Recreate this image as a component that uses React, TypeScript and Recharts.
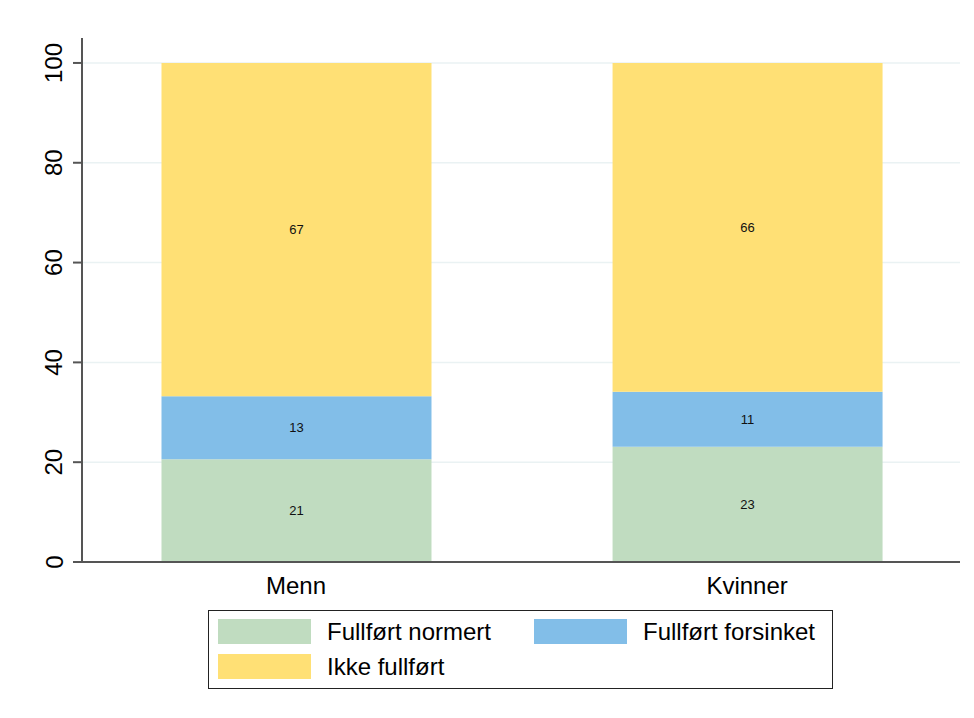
import React from 'react';
import {
  BarChart,
  Bar,
  XAxis,
  YAxis,
  CartesianGrid,
  Legend,
  LabelList,
} from 'recharts';

const categories = ['Menn', 'Kvinner'];
const normert = [20.6, 23.1];
const forsinket = [12.6, 11.0];
const ikkeFullfort = [66.8, 65.9];
const yTicks = [0, 20, 40, 60, 80, 100];

const series = [
  { key: 'normert', name: 'Fullført normert', color: '#C0DCC0' },
  { key: 'forsinket', name: 'Fullført forsinket', color: '#82BEE8' },
  { key: 'ikke', name: 'Ikke fullført', color: '#FFE075' },
];

const data = categories.map((c, i) => ({
  pos: i + 1,
  label: c,
  normert: normert[i],
  forsinket: forsinket[i],
  ikke: ikkeFullfort[i],
}));

const font = 'Arial, "Liberation Sans", Helvetica, sans-serif';

const YTick = (props: any) => {
  const { x, y, payload } = props;
  const cx = x - 17;
  return (
    <text
      x={cx}
      y={y}
      transform={`rotate(-90, ${cx}, ${y})`}
      textAnchor="middle"
      dominantBaseline="central"
      fontSize={24}
      fill="#000"
      fontFamily={font}
    >
      {payload.value}
    </text>
  );
};

const XTick = (props: any) => {
  const { x, y, payload } = props;
  return (
    <text
      x={x}
      y={y + 15}
      textAnchor="middle"
      dominantBaseline="central"
      fontSize={24}
      fill="#000"
      fontFamily={font}
    >
      {categories[payload.value - 1]}
    </text>
  );
};

const LegendBox = () => (
  <div
    style={{
      border: '1.5px solid #222',
      width: 625,
      height: 79,
      boxSizing: 'border-box',
      position: 'relative',
      fontFamily: font,
      fontSize: 24,
      lineHeight: '25px',
      background: '#fff',
    }}
  >
    {series.map((s, i) => {
      const col = i % 2;
      const row = Math.floor(i / 2);
      return (
        <div
          key={s.key}
          style={{
            position: 'absolute',
            left: 9 + col * 316,
            top: 8 + row * 35,
            display: 'flex',
            alignItems: 'center',
          }}
        >
          <div style={{ width: 93, height: 25, background: s.color }} />
          <span style={{ marginLeft: 16, color: '#000', whiteSpace: 'nowrap' }}>{s.name}</span>
        </div>
      );
    })}
  </div>
);

export default function App() {
  return (
    <div style={{ position: 'absolute', left: 0, top: 0, width: 974, height: 718, background: '#fff' }}>
      <BarChart
        width={974}
        height={718}
        data={data}
        margin={{ top: 38, right: 14, left: 0, bottom: 37 }}
        barSize={270}
      >
        <CartesianGrid
          horizontal
          vertical={false}
          stroke="#EAF2F3"
          strokeWidth={1.5}
          horizontalValues={yTicks.filter((t) => t > 0)}
        />
        <XAxis
          dataKey="pos"
          type="number"
          domain={[0.5255, 2.472]}
          ticks={[1, 2]}
          allowDataOverflow
          tick={<XTick />}
          tickLine={false}
          axisLine={{ stroke: '#555', strokeWidth: 2 }}
          height={40}
        />
        <YAxis
          type="number"
          domain={[0, 105]}
          ticks={yTicks}
          allowDataOverflow
          width={82}
          tick={<YTick />}
          tickSize={9}
          tickLine={{ stroke: '#555', strokeWidth: 2 }}
          axisLine={{ stroke: '#555', strokeWidth: 2 }}
        />
        <Legend
          content={<LegendBox />}
          wrapperStyle={{ position: 'absolute', left: 208, top: 610, width: 625, height: 79 }}
        />
        {series.map((s) => (
          <Bar
            key={s.key}
            dataKey={s.key}
            name={s.name}
            stackId="a"
            fill={s.color}
            isAnimationActive={false}
          >
            <LabelList
              dataKey={s.key}
              position="center"
              formatter={(v: any) => Math.round(v)}
              fontSize={13}
              fill="#111"
              fontFamily={font}
            />
          </Bar>
        ))}
      </BarChart>
    </div>
  );
}
